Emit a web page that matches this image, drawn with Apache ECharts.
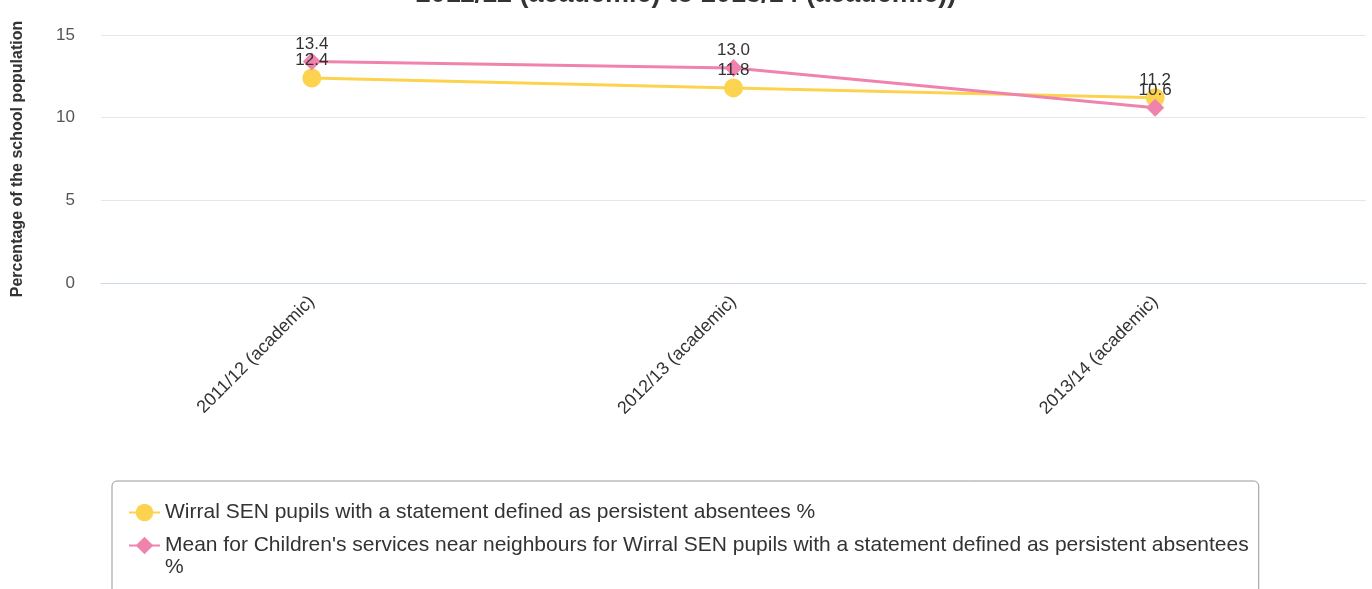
<!DOCTYPE html>
<html><head><meta charset="utf-8">
<script src="https://cdn.jsdelivr.net/npm/echarts@6/dist/echarts.min.js"></script>
<style>html,body{margin:0;padding:0;background:#fff}#c{width:1372px;height:589px}</style>
</head><body><div id="c"></div>
<script>
const categories = ['2011/12 (academic)', '2012/13 (academic)', '2013/14 (academic)'];
const wirral = [12.4, 11.8, 11.2];
const neighbours = [13.4, 13.0, 10.6];
const seriesNames = [
  'Wirral SEN pupils with a statement defined as persistent absentees %',
  "Mean for Children's services near neighbours for Wirral SEN pupils with a statement defined as persistent absentees %"
];
const yTicks = {min: 0, max: 15, interval: 5};
const titleText = '2011/12 (academic) to 2013/14 (academic))';

const chart = echarts.init(document.getElementById('c'));
const font = 'Liberation Sans, Arial, sans-serif';
chart.setOption({
  animation: false,
  textStyle: {fontFamily: font},
  title: {text: titleText, left: 'center', top: -19, padding: 0,
    textStyle: {fontSize: 27, fontWeight: 'bold', color: '#333', fontFamily: font}},
  grid: {left: 101, right: 6, top: 35, bottom: 306, containLabel: false, outerBoundsMode: 'none'},
  legend: {
    type: 'plain',
    orient: 'vertical', left: 112, top: 481, height: 200,
    padding: [20, 10, 40, 16], itemGap: 10,
    borderColor: '#999', borderWidth: 1, borderRadius: 5,
    itemWidth: 31, itemHeight: 22,
    formatter: name => name === seriesNames[1] ? name.replace(/ %$/, '') : name,
    textStyle: {fontSize: 21, color: '#333', lineHeight: 23, fontFamily: font},
    data: seriesNames
  },
  graphic: [{
    type: 'text', left: 165, top: 557,
    style: {text: '%', fontSize: 21, fill: '#333', fontFamily: font}
  }],
  xAxis: {
    type: 'category', data: categories, boundaryGap: true,
    axisLine: {lineStyle: {color: '#ccd6eb'}},
    axisTick: {length: 13, lineStyle: {color: '#ccd6eb'}},
    axisLabel: {rotate: 45, fontSize: 18, color: '#333', margin: 16, interval: 0},
    splitLine: {show: false}
  },
  yAxis: {
    type: 'value', min: yTicks.min, max: yTicks.max, interval: yTicks.interval,
    name: 'Percentage of the school population', nameLocation: 'middle', nameGap: 75,
    nameTextStyle: {fontSize: 16, fontWeight: 'bold', color: '#333'},
    axisLine: {show: false}, axisTick: {show: false},
    axisLabel: {fontSize: 17, color: '#555', margin: 26},
    splitLine: {lineStyle: {color: '#e6e6e6'}}
  },
  series: [
    {name: seriesNames[0], type: 'line', data: wirral, color: '#fcd34f',
     symbol: 'circle', symbolSize: 19, lineStyle: {width: 3},
     label: {show: true, position: 'top', distance: 0, fontSize: 17, color: '#333', formatter: p => p.value.toFixed(1)}},
    {name: seriesNames[1], type: 'line', data: neighbours, color: '#f083ad',
     symbol: 'diamond', symbolSize: 18, lineStyle: {width: 3},
     label: {show: true, position: 'top', distance: 0, fontSize: 17, color: '#333', formatter: p => p.value.toFixed(1)}}
  ]
});
</script></body></html>
